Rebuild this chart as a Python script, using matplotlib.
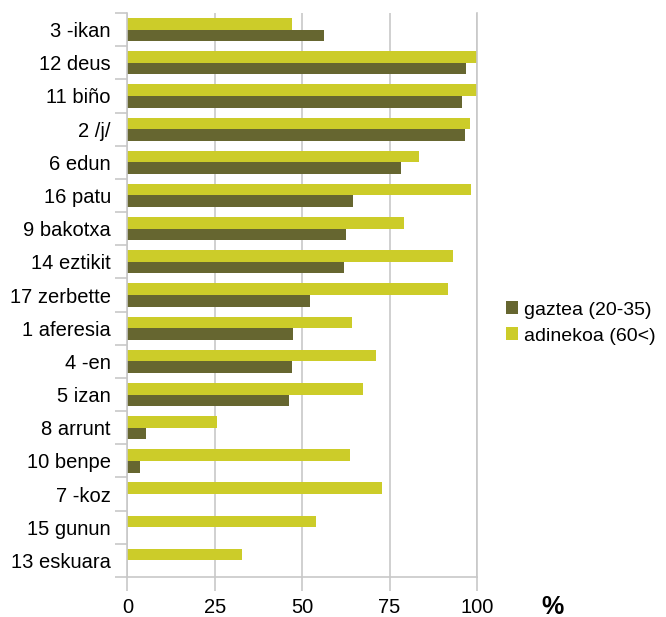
import numpy as np
import matplotlib
matplotlib.use('Agg')
import matplotlib.pyplot as plt

plt.rcParams['font.family'] = ['Liberation Sans', 'DejaVu Sans']

categories = ['3 -ikan', '12 deus', '11 biño', '2 /j/', '6 edun', '16 patu',
              '9 bakotxa', '14 eztikit', '17 zerbette', '1 aferesia', '4 -en',
              '5 izan', '8 arrunt', '10 benpe', '7 -koz', '15 gunun', '13 eskuara']
gaztea = [56.2, 96.9, 95.7, 96.6, 78.3, 64.5, 62.5, 61.9, 52.2, 47.3, 47.1,
          46.2, 5.3, 3.6, 0, 0, 0]
adinekoa = [47.1, 100, 100, 98.0, 83.4, 98.3, 79.1, 93.1, 91.7, 64.2, 71.1,
            67.4, 25.6, 63.7, 72.8, 53.9, 32.8]
xticks = [0, 25, 50, 75, 100]

dark = '#666630'
light = '#cccc29'
grid_c = '#c8c8c8'

fig = plt.figure(figsize=(6.66, 6.17), dpi=100)
ax = fig.add_axes([0.1914, 0.0648, 0.5247, 0.9141])

y = np.arange(len(categories))
h = 0.35
ax.barh(y + h / 2, gaztea, height=h, color=dark, label='gaztea (20-35)', zorder=2)
ax.barh(y - h / 2, adinekoa, height=h, color=light, label='adinekoa (60<)', zorder=2)

ax.set_ylim(len(categories) - 0.5, -0.5)
ax.set_xlim(0, 100)
ax.set_xticks(xticks)
ax.set_xticklabels([str(v) for v in xticks], fontsize=14.5)
ax.set_yticks(y)
ax.set_yticklabels(categories, fontsize=14.5)
ax.tick_params(axis='y', which='major', length=0, pad=12)
ax.set_yticks(np.arange(len(categories) + 1) - 0.5, minor=True)
ax.tick_params(axis='y', which='minor', length=9, color=grid_c, width=1.2)
ax.tick_params(axis='x', length=10, color=grid_c, width=1.2, pad=5)

ax.grid(axis='x', color=grid_c, linewidth=1.2, zorder=0)
ax.spines['top'].set_visible(False)
for s in ['left', 'bottom', 'right']:
    ax.spines[s].set_color(grid_c)
    ax.spines[s].set_linewidth(1.2)

leg = fig.legend(loc='upper left', bbox_to_anchor=(0.733, 0.54), frameon=False,
                 fontsize=14, handlelength=0.65, handleheight=0.65,
                 handletextpad=0.3, labelspacing=0.45)

fig.text(0.829, 0.017, '%', fontsize=18, fontweight='bold', ha='center', va='center')

fig.savefig('out.png', dpi=100)
